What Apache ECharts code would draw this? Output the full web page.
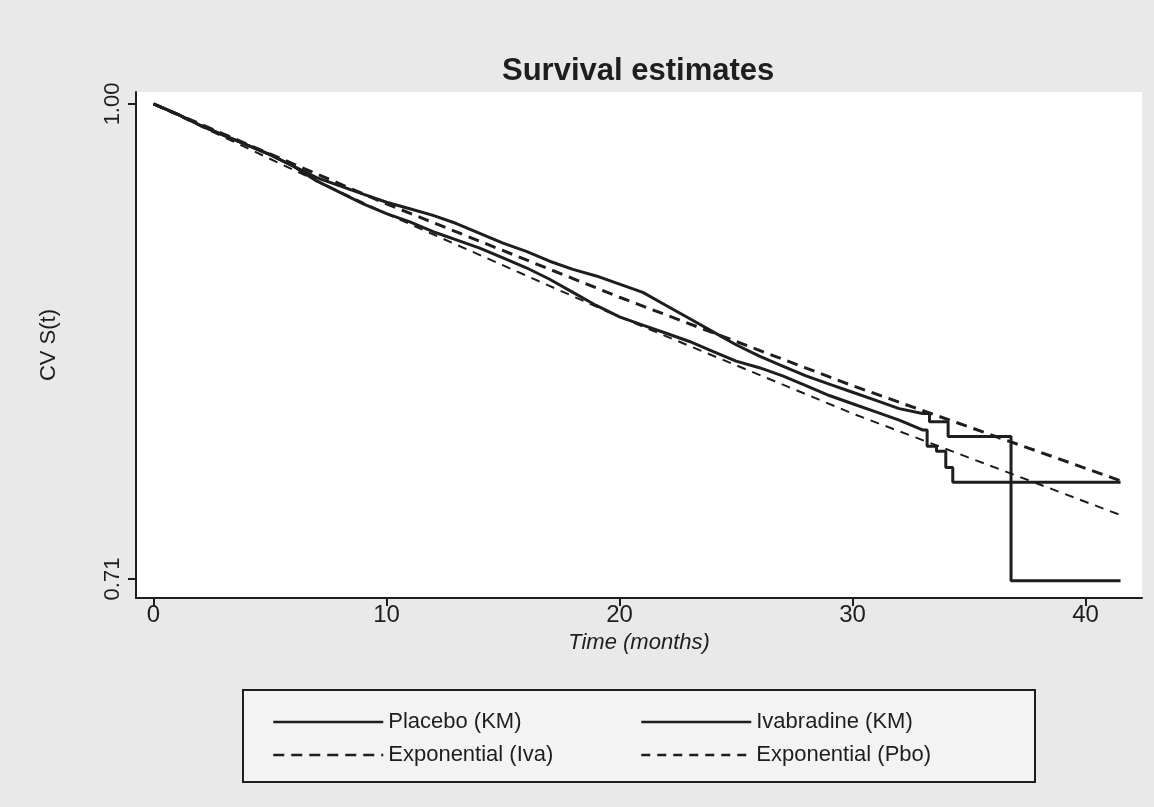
<!DOCTYPE html>
<html>
<head>
<meta charset="utf-8">
<script src="https://cdn.jsdelivr.net/npm/echarts@6/dist/echarts.min.js"></script>
<style>
  html, body { margin: 0; padding: 0; background: #e9e9e9; }
  #survival { width: 1154px; height: 807px; }
</style>
</head>
<body>
<div id="survival"></div>
<script>
// values
var timeTicks = [0, 10, 20, 30, 40];
var survTicks = [0.71, 1.00];

// Kaplan-Meier, [months, S(t)]
var placeboKM = [
  [0, 1.000], [1, 0.994], [2, 0.987], [3, 0.981], [4, 0.975], [5, 0.969],
  [6, 0.962], [7, 0.955], [8, 0.950], [9, 0.945], [10, 0.940], [11, 0.936],
  [12, 0.932], [13, 0.927], [14, 0.921], [15, 0.915], [16, 0.910], [17, 0.904],
  [18, 0.899], [19, 0.895], [20, 0.890], [21, 0.885], [22, 0.877], [23, 0.869],
  [24, 0.861], [25, 0.853], [26, 0.846], [27, 0.840], [28, 0.834], [29, 0.829],
  [30, 0.824], [31, 0.819], [32, 0.814], [33, 0.811], [33.3, 0.811], [33.3, 0.806],
  [34.1, 0.806], [34.1, 0.797], [36.8, 0.797], [36.8, 0.709], [41.5, 0.709]
];
var ivabradineKM = [
  [0, 1.000], [1, 0.994], [2, 0.987], [3, 0.981], [4, 0.975], [5, 0.969],
  [6, 0.962], [7, 0.953], [8, 0.946], [9, 0.939], [10, 0.933], [11, 0.928],
  [12, 0.922], [13, 0.917], [14, 0.912], [15, 0.906], [16, 0.900], [17, 0.893],
  [18, 0.885], [19, 0.877], [20, 0.870], [21, 0.865], [22, 0.860], [23, 0.855],
  [24, 0.849], [25, 0.843], [26, 0.839], [27, 0.834], [28, 0.828], [29, 0.822],
  [30, 0.817], [31, 0.812], [32, 0.807], [33, 0.801], [33.2, 0.801], [33.2, 0.791],
  [33.6, 0.791], [33.6, 0.788], [34.0, 0.788], [34.0, 0.778], [34.3, 0.778],
  [34.3, 0.769], [41.5, 0.769]
];
// exponential fits
var expIva = [[0, 1.000], [10, 0.939], [20, 0.882], [30, 0.828], [41.5, 0.770]];
var expPbo = [[0, 1.000], [10, 0.933], [20, 0.870], [30, 0.811], [41.5, 0.749]];

var chart = echarts.init(document.getElementById('survival'));
var ink = '#1e1e1e';
var font = '"Liberation Sans", Arial, sans-serif';

var legendBase = {
    orient: 'vertical', top: 706, itemWidth: 110, itemHeight: 14, itemGap: 11,
    itemStyle: { opacity: 0, borderWidth: 0 },
    lineStyle: { width: 2.5 },
    textStyle: { fontFamily: font, fontSize: 22, color: ink }
};

var option = {
    backgroundColor: '#e9e9e9',
    animation: false,
    title: {
        text: 'Survival estimates',
        left: 497,
        top: 51,
        textStyle: { fontFamily: font, fontSize: 31, fontWeight: 'bold', color: ink }
    },
    grid: {
        left: 136, right: 12, top: 92, bottom: 209,
        show: true, backgroundColor: '#ffffff', borderWidth: 0
    },
    legend: [
        Object.assign({ left: 267, data: ['Placebo (KM)', 'Exponential (Iva)'] }, legendBase),
        Object.assign({ left: 635, data: ['Ivabradine (KM)', 'Exponential (Pbo)'] }, legendBase)
    ],
    graphic: [{
        type: 'rect',
        shape: { x: 243, y: 690, width: 792, height: 92 },
        style: { fill: '#f3f3f3', stroke: ink, lineWidth: 2 },
        z: -1
    }],
    xAxis: {
        type: 'value',
        min: -0.75, max: 42.42,
        name: 'Time (months)',
        nameLocation: 'middle',
        nameGap: 12,
        nameTextStyle: { fontFamily: font, fontSize: 22, fontStyle: 'italic', color: ink },
        axisLine: { onZero: false, lineStyle: { color: ink, width: 2 } },
        axisTick: { customValues: timeTicks, length: 8, lineStyle: { color: ink, width: 2 } },
        axisLabel: { customValues: timeTicks, margin: 5, fontFamily: font, fontSize: 24, color: ink },
        splitLine: { show: false }
    },
    yAxis: {
        type: 'value',
        min: 0.6984, max: 1.0073,
        name: 'CV S(t)',
        nameLocation: 'middle',
        nameRotate: 90,
        nameGap: 76,
        nameTextStyle: { fontFamily: font, fontSize: 22, color: ink },
        axisLine: { show: true, onZero: false, lineStyle: { color: ink, width: 2 } },
        axisTick: { show: true, customValues: survTicks, length: 8, lineStyle: { color: ink, width: 2 } },
        axisLabel: {
            customValues: survTicks, rotate: 90, margin: 12,
            fontFamily: font, fontSize: 22, color: ink,
            formatter: function (v) { return v.toFixed(2); }
        },
        splitLine: { show: false }
    },
    series: [
        {
            name: 'Placebo (KM)', type: 'line', data: placeboKM, showSymbol: false, symbol: 'none',
            lineStyle: { color: ink, width: 3 }, itemStyle: { color: ink }
        },
        {
            name: 'Ivabradine (KM)', type: 'line', data: ivabradineKM, showSymbol: false, symbol: 'none',
            lineStyle: { color: ink, width: 3 }, itemStyle: { color: ink }
        },
        {
            name: 'Exponential (Iva)', type: 'line', data: expIva, showSymbol: false, symbol: 'none',
            lineStyle: { color: ink, width: 3, type: [11, 7] }, itemStyle: { color: ink }
        },
        {
            name: 'Exponential (Pbo)', type: 'line', data: expPbo, showSymbol: false, symbol: 'none',
            lineStyle: { color: ink, width: 2, type: [9, 7] }, itemStyle: { color: ink }
        }
    ]
};

chart.setOption(option);
</script>
</body>
</html>
